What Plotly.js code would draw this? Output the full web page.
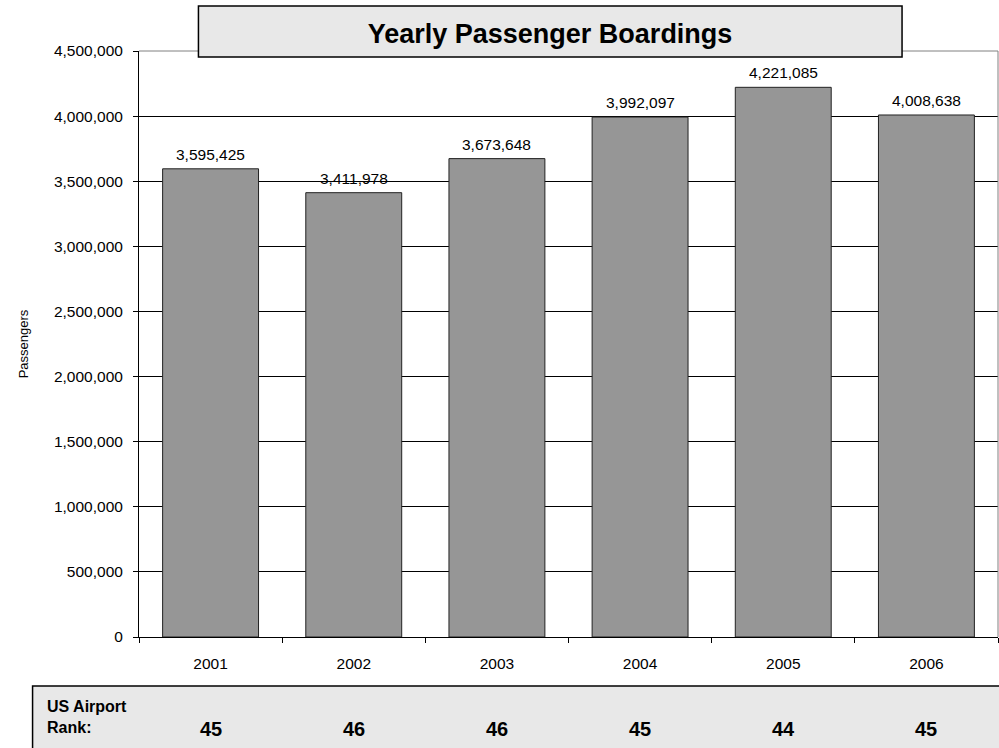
<!DOCTYPE html>
<html>
<head>
<meta charset="utf-8">
<script src="https://cdn.plot.ly/plotly-3.0.1.min.js"></script>
<style>html,body{margin:0;padding:0;background:#fff;}#chart{width:999px;height:748px;}</style>
</head>
<body>
<div id="chart"></div>
<script>
const years = ["2001", "2002", "2003", "2004", "2005", "2006"];
const passengers = [3595425, 3411978, 3673648, 3992097, 4221085, 4008638];
const ranks = [45, 46, 46, 45, 44, 45];
const yTicks = [0, 500000, 1000000, 1500000, 2000000, 2500000, 3000000, 3500000, 4000000, 4500000];
const chartTitle = "Yearly Passenger Boardings";
const yTitle = "Passengers";
const rankLabel = "US Airport<br>Rank:";

const FONT = "Liberation Sans, Arial, sans-serif";
const fmt = v => v.toLocaleString("en-US");

const trace = {
  type: "bar",
  x: years,
  y: passengers,
  marker: {color: "#969696", line: {color: "#222222", width: 1}},
  hoverinfo: "none"
};

const annotations = [];
years.forEach((yr, i) => {
  annotations.push({
    x: i, y: passengers[i], xref: "x", yref: "y",
    text: fmt(passengers[i]), showarrow: false,
    yanchor: "bottom", yshift: 4,
    font: {family: FONT, size: 15.5, color: "#000"}
  });
  annotations.push({
    x: i, y: -0.157, xref: "x", yref: "paper",
    text: "<b>" + ranks[i] + "</b>", showarrow: false,
    yanchor: "middle",
    font: {family: FONT, size: 20, color: "#000"}
  });
});
annotations.push({
  x: -0.1093, y: -0.137, xref: "paper", yref: "paper",
  text: "<b>" + rankLabel + "</b>", showarrow: false, align: "left",
  xanchor: "left", yanchor: "middle",
  font: {family: FONT, size: 16, color: "#000"}
});

const layout = {
  width: 999, height: 748,
  margin: {l: 138.5, r: 1, t: 51, b: 110.5},
  paper_bgcolor: "#ffffff", plot_bgcolor: "#ffffff",
  font: {family: FONT, size: 15, color: "#000"},
  showlegend: false,
  bargap: 0.33,
  title: {
    text: "<b>" + chartTitle + "</b>",
    x: 0.5506, xref: "container", xanchor: "center",
    y: 0.9552, yref: "container", yanchor: "middle",
    font: {family: FONT, size: 27, color: "#000"}
  },
  xaxis: {
    type: "category",
    range: [-0.5, 5.5],
    showgrid: false, zeroline: false,
    showline: true, linecolor: "#000", linewidth: 1,
    ticks: "outside", tickson: "boundaries", ticklen: 5, tickcolor: "#000",
    ticklabelstandoff: 12,
    tickfont: {family: FONT, size: 15.5, color: "#000"}
  },
  yaxis: {
    range: [0, 4500000],
    tickvals: yTicks, ticktext: yTicks.map(fmt),
    showgrid: true, gridcolor: "#000", gridwidth: 1,
    zeroline: false,
    showline: true, linecolor: "#000", linewidth: 1,
    ticks: "outside", ticklen: 5, tickcolor: "#000",
    ticklabelstandoff: 7,
    tickfont: {family: FONT, size: 15.5, color: "#000"},
    title: {text: yTitle, standoff: 22, font: {family: FONT, size: 13, color: "#000"}}
  },
  shapes: [
    {type: "line", xref: "paper", yref: "paper", x0: 0, x1: 1, y0: 1, y1: 1,
     line: {color: "#808080", width: 1}, layer: "above"},
    {type: "line", xref: "paper", yref: "paper", x0: 1, x1: 1, y0: 0, y1: 1,
     line: {color: "#808080", width: 1}, layer: "above"},
    {type: "rect", xref: "paper", yref: "paper", x0: 0.0692, x1: 0.8883, y0: 0.9898, y1: 1.0767,
     fillcolor: "#e8e8e8", line: {color: "#000", width: 1.5}, layer: "above"},
    {type: "rect", xref: "paper", yref: "paper", x0: -0.1239, x1: 1.02, y0: -0.2, y1: -0.0835,
     fillcolor: "#e8e8e8", line: {color: "#000", width: 1.5}, layer: "below"}
  ],
  annotations: annotations
};

Plotly.newPlot("chart", [trace], layout, {displayModeBar: false, staticPlot: true});
</script>
</body>
</html>
